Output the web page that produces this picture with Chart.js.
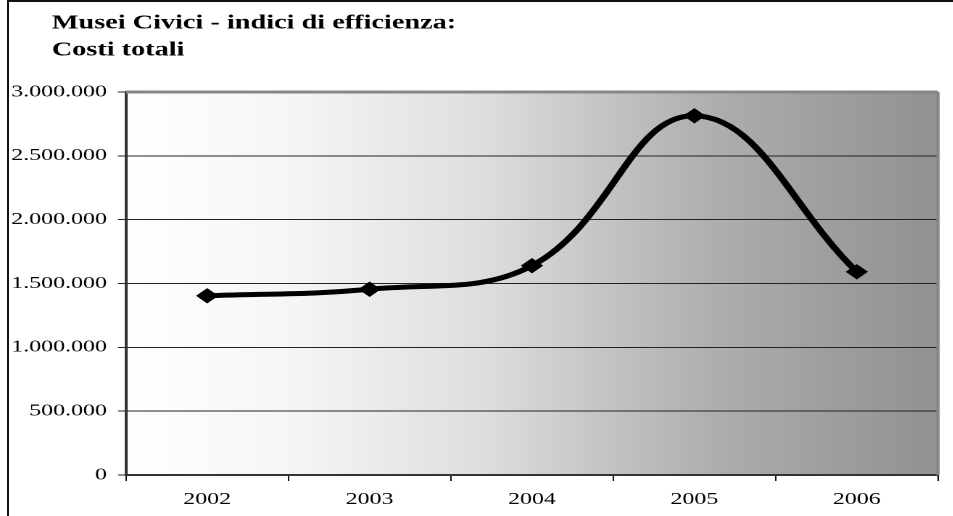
<!DOCTYPE html>
<html>
<head>
<meta charset="utf-8">
<script src="https://cdn.jsdelivr.net/npm/chart.js@4"></script>
<style>
    html, body { margin: 0; padding: 0; background: #fff; }
    #wrap { position: relative; width: 953px; height: 516px; overflow: hidden; }
    /* the original chart is stretched sideways, so the canvas is too */
    #chart { position: absolute; left: 0; top: 0; transform: scaleX(1.45); transform-origin: 0 0; }
    #frame { position: absolute; left: 7px; top: 0; width: 946px; height: 516px;
             border-left: 2px solid #111; border-top: 2px solid #111; box-sizing: border-box; pointer-events: none; }
</style>
</head>
<body>
<div id="wrap">
    <canvas id="chart" width="657" height="516" style="width:657px;height:516px"></canvas>
    <div id="frame"></div>
</div>
<script>
// data
const years = ['2002', '2003', '2004', '2005', '2006'];
const costiTotali = [1404000, 1455000, 1640000, 2814000, 1592000];
const yTicks = [0, 500000, 1000000, 1500000, 2000000, 2500000, 3000000];
const chartTitle = ['Musei Civici - indici di efficienza:', 'Costi totali'];

const serif = '"Liberation Serif", "Times New Roman", serif';

// 1500000 -> "1.500.000"
var formatIt = (v) => String(Math.round(v)).replace(/\B(?=(\d{3})+(?!\d))/g, '.');

// gray gradient behind the plot, plus the gray top and right edges
const plotBackground = {
    id: 'plotBackground',
    afterLayout: (chart) => {
        // title starts a bit right of the tick labels
        if (chart.titleBlock) chart.titleBlock.left = 35.7;
    },
    beforeDraw: (chart) => {
        const { ctx, chartArea: a } = chart;
        const g = ctx.createLinearGradient(a.left, 0, a.right, 0);
        g.addColorStop(0, '#ffffff');
        g.addColorStop(0.2, '#f6f6f6');
        g.addColorStop(0.44, '#dedede');
        g.addColorStop(0.58, '#c6c6c6');
        g.addColorStop(0.72, '#afafaf');
        g.addColorStop(0.85, '#a0a0a0');
        g.addColorStop(1, '#929292');
        ctx.save();
        ctx.fillStyle = g;
        ctx.fillRect(a.left, a.top, a.right - a.left, a.bottom - a.top);
        ctx.restore();
    },
    beforeDatasetsDraw: (chart) => {
        const { ctx, chartArea: a } = chart;
        ctx.save();
        ctx.strokeStyle = '#878787';
        ctx.lineWidth = 3;
        ctx.beginPath();
        ctx.moveTo(a.left, a.top);
        ctx.lineTo(a.right, a.top);
        ctx.stroke();
        ctx.lineWidth = 2.2;
        ctx.beginPath();
        ctx.moveTo(a.right, a.top);
        ctx.lineTo(a.right, a.bottom);
        ctx.stroke();
        ctx.restore();
    }
};

const config = {
    type: 'line',
    data: {
        labels: years,
        datasets: [
            {
                label: 'Costi totali',
                data: costiTotali,
                borderColor: '#000',
                borderWidth: 5,
                tension: 0.4,
                pointStyle: 'rectRot',
                pointRadius: 7,
                pointBorderWidth: 1,
                pointBackgroundColor: '#000',
                pointBorderColor: '#000',
                clip: false
            }
        ]
    },
    options: {
        responsive: false,
        devicePixelRatio: 2,
        animation: false,
        layout: { padding: { left: 0, right: 10.1, top: 0, bottom: 0 } },
        plugins: {
            legend: { display: false },
            tooltip: { enabled: false },
            title: {
                display: true,
                text: chartTitle,
                align: 'start',
                color: '#000',
                font: { family: serif, size: 19.5, weight: 'bold', lineHeight: 1.365 },
                padding: { top: 10.4, bottom: 28.4 }
            }
        },
        scales: {
            x: {
                offset: true,
                grid: { offset: true, drawOnChartArea: false, drawTicks: true, tickLength: 6, color: '#111', lineWidth: 1 },
                border: { color: '#333', width: 2 },
                ticks: { color: '#000', padding: 9, font: { family: serif, size: 16.5 } },
                afterFit: (scale) => { scale.height = 41; }
            },
            y: {
                min: 0,
                max: 3000000,
                afterBuildTicks: (scale) => { scale.ticks = yTicks.map(v => ({ value: v })); },
                grid: { color: '#222', lineWidth: 1, tickLength: 5.5 },
                border: { color: '#333', width: 2 },
                ticks: {
                    color: '#000',
                    padding: 7.6,
                    font: { family: serif, size: 16.5 },
                    callback: (v) => formatIt(v)
                },
                afterFit: (scale) => { scale.width = 86.9; }
            }
        }
    },
    plugins: [plotBackground]
};

new Chart(document.getElementById('chart'), config);
</script>
</body>
</html>
